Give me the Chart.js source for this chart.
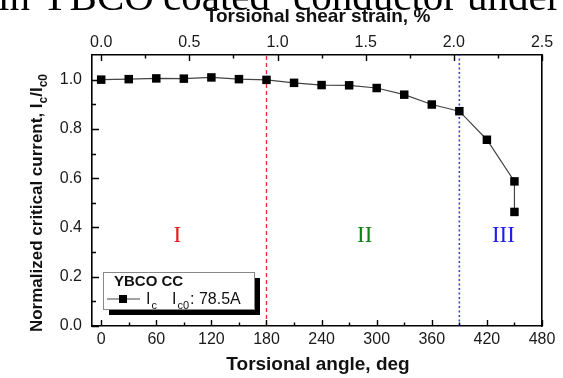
<!DOCTYPE html>
<html>
<head>
<meta charset="utf-8">
<script src="https://cdn.jsdelivr.net/npm/chart.js@4.4.1/dist/chart.umd.min.js"></script>
<style>
  html, body { margin: 0; padding: 0; background: #fff; }
  #wrap { width: 563px; height: 378px; }
</style>
</head>
<body>
<div id="wrap"><canvas id="chart"></canvas></div>
<script>
(function(){
  'use strict';

  // Ic under torsion: twist angle (deg) vs normalized critical current
  var angleDeg = [0, 30, 60, 90, 120, 150, 180, 210, 240, 270, 300, 330, 360, 390, 420, 450, 450];
  var normIc   = [1.000, 1.002, 1.005, 1.004, 1.009, 1.002, 0.999, 0.987, 0.978, 0.977, 0.966, 0.939, 0.899, 0.872, 0.756, 0.587, 0.463];

  var angleTicks  = [0, 60, 120, 180, 240, 300, 360, 420, 480];
  var strainTicks = [0.0, 0.5, 1.0, 1.5, 2.0, 2.5];
  var icTicks     = [0.0, 0.2, 0.4, 0.6, 0.8, 1.0];

  var regionBounds = [180, 390];
  var regionNames  = ['I', 'II', 'III'];
  var regionAt     = [83, 287, 438];
  var regionLevel  = 0.367;

  var degPerStrain = 192;   // 480 deg of twist = 2.5 % shear strain
  var icRef = '78.5A';

  // caption line running off the top edge, one word at a time
  var captionWords = ['in', 'YBCO', 'coated', 'conductor', 'under'];
  var captionX     = [-2, 40, 163, 293, 467];

  var SANS = '"Liberation Sans", Arial, sans-serif';
  var SERIF = '"Liberation Serif", "Times New Roman", serif';
  var regionColors = ['#e5161d', '#15801a', '#1d1df2'];
  var boundColors  = ['#f2262b', '#3b3bff'];

  function midpoints(arr) {
    var out = [];
    for (var i = 1; i < arr.length; i++) {
      out.push((arr[i - 1] + arr[i]) / 2);
    }
    return out;
  }

  function setTicks(values) {
    return function(scale) {
      scale.ticks = values.map(function(v) { return { value: v }; });
    };
  }

  // text with subscript runs, parts = [[text, isSub, gapBefore], ...]
  function richWidth(ctx, parts, size, weight) {
    var w = 0;
    parts.forEach(function(p) {
      ctx.font = weight + ' ' + (p[1] ? Math.round(size * 0.7) : size) + 'px ' + SANS;
      w += ctx.measureText(p[0]).width + (p[2] || 0);
    });
    return w;
  }

  function drawRich(ctx, parts, x, y, size, weight) {
    parts.forEach(function(p) {
      x += p[2] || 0;
      ctx.font = weight + ' ' + (p[1] ? Math.round(size * 0.7) : size) + 'px ' + SANS;
      ctx.fillText(p[0], x, p[1] ? y + size * 0.3 : y);
      x += ctx.measureText(p[0]).width;
    });
  }

  // inward tick marks on the three labelled axes
  var innerTicks = {
    id: 'innerTicks',
    afterDatasetsDraw: function(chart) {
      var ctx = chart.ctx;
      var a = chart.chartArea;
      var sx = chart.scales.x, sx2 = chart.scales.x2, sy = chart.scales.y;
      ctx.save();
      ctx.strokeStyle = '#000';
      ctx.lineWidth = 1.4;
      ctx.beginPath();
      function vTick(scale, v, y0, dir, len) {
        var p = Math.round(scale.getPixelForValue(v)) + 0.5;
        ctx.moveTo(p, y0); ctx.lineTo(p, y0 + dir * len);
      }
      angleTicks.forEach(function(v) { vTick(sx, v, a.bottom, -1, 6); });
      midpoints(angleTicks).forEach(function(v) { vTick(sx, v, a.bottom, -1, 3.5); });
      strainTicks.forEach(function(v) { vTick(sx2, v, a.top, 1, 6); });
      midpoints(strainTicks).forEach(function(v) { vTick(sx2, v, a.top, 1, 3.5); });
      icTicks.forEach(function(v) {
        var p = Math.round(sy.getPixelForValue(v)) + 0.5;
        ctx.moveTo(a.left, p); ctx.lineTo(a.left + 7, p);
      });
      midpoints(icTicks).forEach(function(v) {
        var p = Math.round(sy.getPixelForValue(v)) + 0.5;
        ctx.moveTo(a.left, p); ctx.lineTo(a.left + 4, p);
      });
      ctx.stroke();
      ctx.restore();
    }
  };

  // axis titles, region numerals, legend box and the caption fragment
  var decorations = {
    id: 'decorations',
    afterDraw: function(chart) {
      var ctx = chart.ctx;
      var sx = chart.scales.x, sy = chart.scales.y;
      ctx.save();
      ctx.fillStyle = '#000';

      ctx.font = '41px ' + SERIF;
      ctx.textBaseline = 'alphabetic';
      ctx.textAlign = 'left';
      captionWords.forEach(function(w, i) { ctx.fillText(w, captionX[i], 10); });

      ctx.font = 'bold 19px ' + SANS;
      ctx.textAlign = 'center';
      ctx.textBaseline = 'middle';
      ctx.fillStyle = '#111';
      ctx.fillText('Torsional shear strain, %', 318, 17);
      ctx.fillText('Torsional angle, deg', 318, 365);

      // rotated y title with subscripts
      var yParts = [['Normalized critical current, I', false], ['c', true], ['/I', false], ['c0', true]];
      ctx.save();
      ctx.translate(42, 203);
      ctx.rotate(-Math.PI / 2);
      ctx.textAlign = 'left';
      ctx.textBaseline = 'alphabetic';
      var w = richWidth(ctx, yParts, 17, 'bold');
      drawRich(ctx, yParts, -w / 2, 0, 17, 'bold');
      ctx.restore();

      // region numerals
      ctx.font = '23px ' + SERIF;
      ctx.textAlign = 'center';
      ctx.textBaseline = 'middle';
      regionNames.forEach(function(name, i) {
        ctx.fillStyle = regionColors[i];
        ctx.fillText(name, sx.getPixelForValue(regionAt[i]), sy.getPixelForValue(regionLevel));
      });

      // legend with drop shadow
      var bx = 103, by = 272, bw = 151, bh = 37;
      ctx.fillStyle = '#000';
      ctx.fillRect(bx + 6, by + 6, bw, bh);
      ctx.fillStyle = '#fff';
      ctx.fillRect(bx, by, bw, bh);
      ctx.strokeStyle = '#888';
      ctx.lineWidth = 1;
      ctx.strokeRect(bx + 0.5, by + 0.5, bw, bh);

      ctx.fillStyle = '#111';
      ctx.textAlign = 'left';
      ctx.textBaseline = 'middle';
      ctx.font = 'bold 15px ' + SANS;
      ctx.fillText('YBCO CC', bx + 11, by + 10);

      var ds = chart.data.datasets[0];
      var ly = by + 27;
      ctx.strokeStyle = ds.borderColor;
      ctx.lineWidth = ds.borderWidth;
      ctx.beginPath();
      ctx.moveTo(bx + 4, ly); ctx.lineTo(bx + 37, ly);
      ctx.stroke();
      ctx.fillStyle = ds.backgroundColor;
      ctx.fillRect(bx + 16, ly - 4, 8, 8);

      ctx.fillStyle = '#111';
      ctx.textBaseline = 'alphabetic';
      drawRich(ctx, [['I', false], ['c', true, 1], ['I', false, 15], ['c0', true, 1], [': ' + icRef, false, 1]],
        bx + 43, ly + 5, 16, 'normal');
      ctx.restore();
    }
  };

  var tickFont = { family: SANS, size: 16 };

  var datasets = [{
    label: 'Ic',
    data: angleDeg.map(function(x, i) { return { x: x, y: normIc[i] }; }),
    borderColor: '#444',
    borderWidth: 1.2,
    backgroundColor: '#000',
    pointStyle: 'rect',
    pointRadius: 6,
    pointBorderWidth: 0,
    tension: 0,
    xAxisID: 'x',
    yAxisID: 'y'
  }];
  regionBounds.forEach(function(b, i) {
    datasets.push({
      label: 'bound' + i,
      data: [{ x: b, y: 0 }, { x: b, y: 1.1 }],
      borderColor: boundColors[i],
      borderWidth: i === 0 ? 1.3 : 1.6,
      borderDash: i === 0 ? [4, 3] : [2, 2.5],
      pointRadius: 0,
      xAxisID: 'x',
      yAxisID: 'y'
    });
  });

  new Chart(document.getElementById('chart'), {
    type: 'line',
    data: { datasets: datasets },
    plugins: [innerTicks, decorations],
    options: {
      responsive: true,
      maintainAspectRatio: false,
      animation: false,
      layout: { padding: 0 },
      plugins: { legend: { display: false }, tooltip: { enabled: false } },
      scales: {
        x: {
          type: 'linear', position: 'bottom', min: -10, max: 480,
          afterBuildTicks: setTicks(angleTicks),
          afterFit: function(s) { s.height = 52; },
          grid: { display: false, drawTicks: false },
          border: { color: '#000', width: 1.6 },
          ticks: { font: tickFont, color: '#1a1a1a', padding: 4, autoSkip: false, maxRotation: 0,
                   callback: function(v) { return String(v); } }
        },
        x2: {
          type: 'linear', position: 'top', min: -10 / degPerStrain, max: 480 / degPerStrain,
          afterBuildTicks: setTicks(strainTicks),
          afterFit: function(s) { s.height = 55; },
          grid: { display: false, drawTicks: false },
          border: { color: '#000', width: 1.6 },
          ticks: { font: tickFont, color: '#1a1a1a', padding: 3, autoSkip: false, maxRotation: 0,
                   callback: function(v) { return Number(v).toFixed(1); } }
        },
        y: {
          type: 'linear', position: 'left', min: 0, max: 1.1,
          afterBuildTicks: setTicks(icTicks),
          afterFit: function(s) { s.width = 92; },
          grid: { display: false, drawTicks: false },
          border: { color: '#000', width: 1.6 },
          ticks: { font: tickFont, color: '#1a1a1a', padding: 10, autoSkip: false,
                   callback: function(v) { return Number(v).toFixed(1); } }
        },
        y2: {
          type: 'linear', position: 'right', min: 0, max: 1.1,
          afterFit: function(s) { s.width = 21; },
          grid: { display: false, drawTicks: false },
          border: { color: '#000', width: 1.6 },
          ticks: { display: false }
        }
      }
    }
  });

}());
</script>
</body>
</html>
